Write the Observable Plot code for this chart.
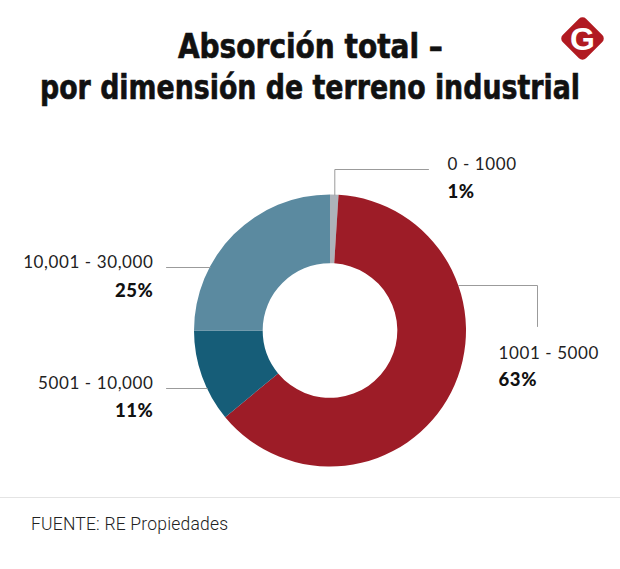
<!DOCTYPE html>
<html><head><meta charset="utf-8">
<script src="https://cdn.jsdelivr.net/npm/d3@7"></script>
<script src="https://cdn.jsdelivr.net/npm/@observablehq/plot@0.6"></script>
<style>
html,body{margin:0;padding:0;background:#fff}
body{width:620px;height:569px;position:relative;overflow:hidden;font-family:Lato,sans-serif}
.tl{position:absolute;left:0;width:620px;text-align:center;white-space:nowrap;font-family:"Liberation Sans Narrow","DejaVu Sans Condensed",sans-serif;font-weight:700;font-size:33px;line-height:32px;color:#111;-webkit-text-stroke:0.6px #111}
.tl span{display:inline-block;transform-origin:50% 50%}
#chart{position:absolute;left:0;top:130px}
#chart text{letter-spacing:0.6px}
#sep{position:absolute;left:0;top:497px;width:620px;height:1px;background:#e4e4e4}
#caption{position:absolute;left:31px;top:514px;font-family:Roboto,sans-serif;font-weight:300;font-size:17.5px;line-height:20px;color:#222;letter-spacing:0.2px}
#logo{position:absolute;left:566px;top:22px;width:33px;height:33px;background:#b11a21;border-radius:5px;transform:rotate(45deg)}
#logoG{position:absolute;left:562.5px;top:21.5px;width:40px;text-align:center;font-family:"Liberation Sans",sans-serif;font-weight:700;font-size:32px;line-height:34px;color:#fff}
</style>
</head><body>
<div class="tl" id="t1" style="top:31px"><span data-w="265">Absorción total –</span></div>
<div class="tl" id="t2" style="top:72px"><span data-w="540">por dimensión de terreno industrial</span></div>
<div id="logo"></div><div id="logoG">G</div>
<div id="chart"></div>
<div id="sep"></div>
<div id="caption">FUENTE: RE Propiedades</div>
<script>
// ---- data ----
const categories = ["0 - 1000", "1001 - 5000", "5001 - 10,000", "10,001 - 30,000"];
const shares = [1, 63, 11, 25];
const pctLabels = ["1%", "63%", "11%", "25%"];
const colors = ["#adb3ba", "#9d1c27", "#165d78", "#5b8aa0"];

// ---- layout (pixels relative to the donut centre, y up) ----
const R = 136;          // outer radius in px = 1 unit
const INNER = 0.495;
const W = 620, H = 365, CX = 330, CY = 200.5;
const leaderPts = [
  [[4.3, 136], [4.3, 161.5], [98, 161.5]],
  [[128.2, 45.5], [207, 45.5], [207, 4.5]],
  [[-123.2, -57.5], [-164, -57.5]],
  [[-120.3, 63.5], [-164, 63.5]]
];
const labelPos = [
  {x: 117, y: 161.5, y2: 133.5, anchor: "start"},
  {x: 168, y: -27.5, y2: -54.5, anchor: "start"},
  {x: -177, y: -57.5, y2: -85.5, anchor: "end"},
  {x: -177, y: 63.5, y2: 34.5, anchor: "end"}
];

const rows = categories.map((c, i) => ({cat: c, share: shares[i], pct: pctLabels[i], color: colors[i]}));
const arcs = d3.pie().sort(null).value(d => d.share)(rows);

const leaders = [];
leaderPts.forEach((pts, i) => pts.forEach(([px, py]) => leaders.push({cat: categories[i], x: px / R, y: py / R})));
const labels = rows.map((r, i) => ({...r, x: labelPos[i].x / R, y: labelPos[i].y / R, y2: labelPos[i].y2 / R, anchor: labelPos[i].anchor}));

function donut(index, scales) {
  const cx = scales.x(0), cy = scales.y(0);
  const r = scales.x(1) - scales.x(0);
  const arc = d3.arc().innerRadius(r * INNER).outerRadius(r);
  const g = d3.create("svg:g").attr("transform", `translate(${cx},${cy})`);
  g.selectAll("path").data(arcs).join("path").attr("d", arc).attr("fill", d => d.data.color);
  return g.node();
}

const chart = Plot.plot({
  width: W, height: H,
  margin: 0,
  x: {domain: [-CX / R, (W - CX) / R], range: [0, W], axis: null},
  y: {domain: [-(H - CY) / R, CY / R], range: [H, 0], axis: null},
  marks: [
    donut,
    Plot.line(leaders, {x: "x", y: "y", z: "cat", stroke: "#9b9b9b", strokeWidth: 1}),
    Plot.text(labels.filter(d => d.anchor === "start"), {x: "x", y: "y", text: "cat", textAnchor: "start", lineAnchor: "bottom", fontSize: 17, fill: "#222"}),
    Plot.text(labels.filter(d => d.anchor === "end"), {x: "x", y: "y", text: "cat", textAnchor: "end", lineAnchor: "bottom", fontSize: 17, fill: "#222"}),
    Plot.text(labels.filter(d => d.anchor === "start"), {x: "x", y: "y2", text: "pct", textAnchor: "start", lineAnchor: "bottom", fontSize: 18.5, fontWeight: 900, fill: "#111"}),
    Plot.text(labels.filter(d => d.anchor === "end"), {x: "x", y: "y2", text: "pct", textAnchor: "end", lineAnchor: "bottom", fontSize: 18.5, fontWeight: 900, fill: "#111"})
  ],
  style: {fontFamily: "Lato, sans-serif", background: "transparent", overflow: "visible"}
});
document.getElementById("chart").appendChild(chart);

// fit title lines to the reference widths
document.querySelectorAll(".tl span").forEach(s => {
  const w = s.getBoundingClientRect().width;
  const target = +s.dataset.w;
  if (w > 0) s.style.transform = `scaleX(${target / w})`;
});
</script>
</body></html>
